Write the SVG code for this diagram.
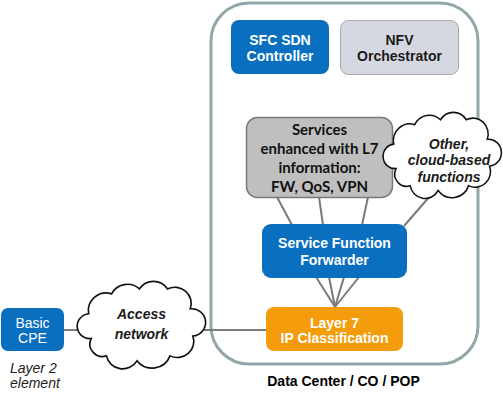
<svg xmlns="http://www.w3.org/2000/svg" xmlns:xlink="http://www.w3.org/1999/xlink" width="503" height="400" viewBox="0 0 503 400">
<style>
.conn{stroke:#7a7a7a;stroke-width:2;fill:none}
.blue{fill:#0a6fbf}
.t{font-family:"Liberation Sans",Arial,sans-serif;font-size:14px;text-anchor:middle}
.b{font-weight:bold}
.w{fill:#fff}
.k{fill:#1a1a1a}
.cloud{fill:#fff;stroke:#111;stroke-width:1.3}
.cal{font-family:Lato,"Open Sans",sans-serif;font-weight:bold;font-size:15px;text-anchor:middle;fill:#111}
</style>
<defs>
<path id="cl" d="M 12 48 A 10 10 0 0 1 10 28 A 14 14 0 0 1 28 12 A 14 14 0 0 1 50 8 A 13 13 0 0 1 72 8 A 13 13 0 0 1 90 24 A 11 11 0 0 1 92 46 A 13 13 0 0 1 74 62 A 15 15 0 0 1 48 66 A 13 13 0 0 1 24 62 A 10 10 0 0 1 12 48 Z"/>
</defs>
<rect width="503" height="400" fill="#fff"/>
<g id="container">
<rect x="211" y="3" width="267" height="361" rx="38" fill="none" stroke="#93a6aa" stroke-width="3"/>
</g>
<g id="connectors">
<line class="conn" x1="64" y1="330" x2="86" y2="330"/>
<line class="conn" x1="196" y1="330" x2="267" y2="330"/>
<line class="conn" x1="277" y1="197" x2="292" y2="225"/>
<line class="conn" x1="319" y1="197" x2="323" y2="225"/>
<line class="conn" x1="368" y1="197" x2="362" y2="225"/>
<line class="conn" x1="430" y1="196" x2="404" y2="226"/>
<line class="conn" x1="316" y1="277" x2="335" y2="307"/>
<line class="conn" x1="329" y1="277" x2="335" y2="307"/>
<line class="conn" x1="344" y1="277" x2="335" y2="307"/>
<line class="conn" x1="359" y1="277" x2="335" y2="307"/>
</g>
<g id="sfc">
<rect class="blue" x="231" y="20" width="98" height="54" rx="8"/>
<text class="t b w" font-size="14.5" x="280" y="45">SFC SDN</text>
<text class="t b w" font-size="14.5" x="280" y="61">Controller</text>
</g>
<g id="nfv">
<rect x="340.5" y="20.5" width="118" height="54" rx="8" fill="#d6d8e1" stroke="#a6a8b0" stroke-width="1"/>
<text class="t b k" font-size="14.5" x="399.5" y="45">NFV</text>
<text class="t b k" font-size="14.5" x="399.5" y="61">Orchestrator</text>
</g>
<g id="services">
<rect x="246.5" y="117.5" width="146" height="80" rx="11" fill="#bfbfbf" stroke="#7a7a7a" stroke-width="1.5"/>
<text class="cal" x="319.5" y="135">Services</text>
<text class="cal" x="319.5" y="154">enhanced with L7</text>
<text class="cal" x="319.5" y="173">information:</text>
<text class="cal" x="319.5" y="192">FW, QoS, VPN</text>
</g>
<g id="other">
<use xlink:href="#cl" class="cloud" transform="translate(382,110) scale(1.17,1.22)"/>
<text class="t b k" font-style="italic" font-size="14.5" x="449" y="149">Other,</text>
<text class="t b k" font-style="italic" font-size="14.5" x="449" y="165">cloud-based</text>
<text class="t b k" font-style="italic" font-size="14.5" x="449" y="182">functions</text>
</g>
<g id="sff">
<rect class="blue" x="262" y="224" width="145" height="54" rx="9"/>
<text class="t b w" x="334.5" y="248">Service Function</text>
<text class="t b w" x="334.5" y="265">Forwarder</text>
</g>
<g id="l7">
<rect x="266" y="307" width="137" height="44" rx="8" fill="#f59c0c"/>
<text class="t b w" x="334.5" y="328">Layer 7</text>
<text class="t b w" x="334.5" y="343">IP Classification</text>
</g>
<g id="cpe">
<rect class="blue" x="1" y="308" width="63" height="43" rx="7"/>
<text class="t w" x="32.5" y="328">Basic</text>
<text class="t w" x="32.5" y="343">CPE</text>
<text class="t" fill="#222" font-style="italic" x="10" y="373" style="text-anchor:start">Layer 2</text>
<text class="t" fill="#222" font-style="italic" x="10" y="388" style="text-anchor:start">element</text>
</g>
<g id="access">
<use xlink:href="#cl" class="cloud" transform="translate(76,279) scale(1.27,1.24)"/>
<text class="t b k" font-style="italic" font-size="17" x="141.5" y="319">Access</text>
<text class="t b k" font-style="italic" font-size="17" x="141.5" y="339">network</text>
</g>
<g id="label">
<text class="t b" fill="#000" font-size="16" x="343.5" y="386">Data Center / CO / POP</text>
</g>
</svg>
